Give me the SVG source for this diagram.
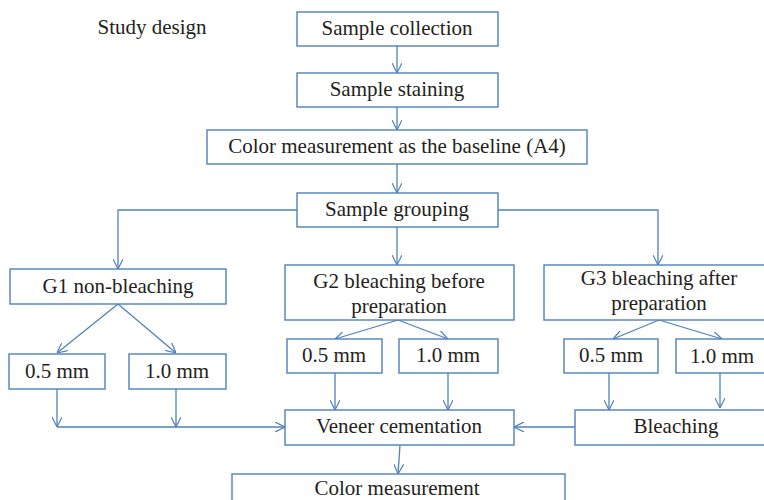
<svg xmlns="http://www.w3.org/2000/svg" width="764" height="500" viewBox="0 0 764 500">
<defs>
<marker id="ah" viewBox="0 0 10 10" refX="10" refY="5" markerWidth="10" markerHeight="10" markerUnits="userSpaceOnUse" orient="auto">
<path d="M0,0 L10,5 L0,10" fill="none" stroke="#4f81bd" stroke-width="1.2"/>
</marker>
<style>
rect{fill:#fff;stroke:#4f81bd;stroke-width:1.4}
text{font-family:'Liberation Serif','DejaVu Serif',serif;font-size:21px;fill:#231f20;text-anchor:middle}
.c{fill:none;stroke:#4f81bd;stroke-width:1.3;marker-end:url(#ah)}
</style>
</defs>
<rect width="764" height="500" style="fill:#fff;stroke:none"/>
<text x="152" y="34">Study design</text>
<g id="connectors">
<path class="c" d="M397,46 V73"/>
<path class="c" d="M397,107 V130"/>
<path class="c" d="M397,164 V193"/>
<path class="c" d="M297,210 H118 V269"/>
<path class="c" d="M397,227 V265"/>
<path class="c" d="M498,210 H658 V265"/>
<path class="c" d="M118,304 L57,353"/>
<path class="c" d="M118,304 L176,353"/>
<path class="c" d="M398,320 L335,339"/>
<path class="c" d="M398,320 L448,339"/>
<path class="c" d="M659,320 L613,339"/>
<path class="c" d="M659,320 L722,339"/>
<path class="c" d="M57,389 V427"/>
<path class="c" d="M176,389 V427"/>
<path class="c" d="M57,427 H285"/>
<path class="c" d="M335,373 V410"/>
<path class="c" d="M448,373 V410"/>
<path class="c" d="M609,373 V410"/>
<path class="c" d="M720,373 V408"/>
<path class="c" d="M575,427 H514"/>
<path class="c" d="M400,445 L398,474"/>
</g>
<g id="n-collection"><rect x="297" y="12" width="201" height="34"/><text x="397" y="35">Sample collection</text></g>
<g id="n-staining"><rect x="297" y="73" width="201" height="34"/><text x="397" y="96">Sample staining</text></g>
<g id="n-baseline"><rect x="207" y="130" width="380" height="34"/><text x="397" y="153">Color measurement as the baseline (A4)</text></g>
<g id="n-grouping"><rect x="297" y="193" width="201" height="34"/><text x="397" y="216">Sample grouping</text></g>
<g id="n-g1"><rect x="10" y="269" width="216" height="35"/><text x="118" y="293">G1 non-bleaching</text></g>
<g id="n-g2"><rect x="285" y="265" width="229" height="55"/><text x="399" y="288">G2 bleaching before</text><text x="399" y="313">preparation</text></g>
<g id="n-g3"><rect x="544" y="265" width="230" height="55"/><text x="659" y="285">G3 bleaching after</text><text x="659" y="310">preparation</text></g>
<g id="n-g1-05"><rect x="9" y="354" width="96" height="35"/><text x="57" y="378">0.5 mm</text></g>
<g id="n-g1-10"><rect x="129" y="354" width="97" height="35"/><text x="177" y="378">1.0 mm</text></g>
<g id="n-g2-05"><rect x="287" y="339" width="95" height="34"/><text x="334" y="362">0.5 mm</text></g>
<g id="n-g2-10"><rect x="399" y="339" width="99" height="34"/><text x="448" y="362">1.0 mm</text></g>
<g id="n-g3-05"><rect x="564" y="339" width="94" height="34"/><text x="611" y="362">0.5 mm</text></g>
<g id="n-g3-10"><rect x="676" y="339" width="100" height="34"/><text x="722" y="363">1.0 mm</text></g>
<g id="n-veneer"><rect x="285" y="410" width="229" height="35"/><text x="399" y="433">Veneer cementation</text></g>
<g id="n-bleaching"><rect x="575" y="410" width="200" height="35"/><text x="676" y="433">Bleaching</text></g>
<g id="n-final"><rect x="232" y="474" width="333" height="40"/><text x="397" y="495">Color measurement</text></g>
</svg>
